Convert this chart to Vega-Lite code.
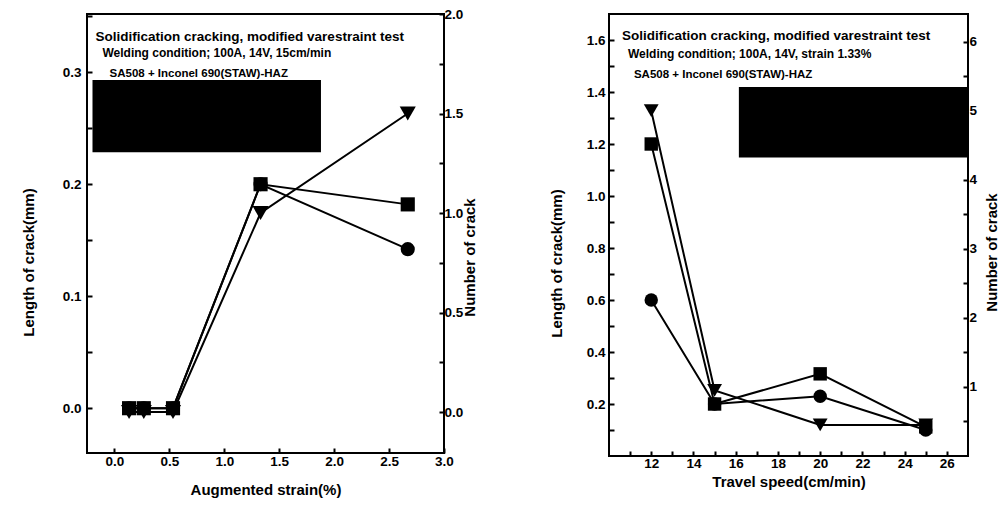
{
  "$schema": "https://vega.github.io/schema/vega-lite/v6.json",
  "background": "white",
  "padding": {"left": 20, "top": 6, "right": 0, "bottom": 0},
  "spacing": 69,
  "config": {
    "view": {"stroke": "black", "strokeWidth": 2},
    "font": "Liberation Sans",
    "axis": {
      "grid": false, "domain": false,
      "tickColor": "black", "tickWidth": 2, "tickSize": -5,
      "labelFont": "Liberation Sans", "labelFontWeight": "bold", "labelFontSize": 13.5, "labelColor": "black",
      "titleFont": "Liberation Sans", "titleFontWeight": "bold", "titleFontSize": 15, "titleColor": "black",
      "labelOverlap": false, "labelFlush": false
    }
  },
  "datasets": {
    "strain": [
      {"strain": 0.133, "series": "square", "value": 0},
      {"strain": 0.267, "series": "square", "value": 0},
      {"strain": 0.533, "series": "square", "value": 0},
      {"strain": 1.33, "series": "square", "value": 0.2},
      {"strain": 2.67, "series": "square", "value": 0.182},
      {"strain": 0.133, "series": "circle", "value": 0},
      {"strain": 0.267, "series": "circle", "value": 0},
      {"strain": 0.533, "series": "circle", "value": 0},
      {"strain": 1.33, "series": "circle", "value": 0.2},
      {"strain": 2.67, "series": "circle", "value": 0.142},
      {"strain": 0.133, "series": "triangle", "value": 0},
      {"strain": 0.267, "series": "triangle", "value": 0},
      {"strain": 0.533, "series": "triangle", "value": 0},
      {"strain": 1.33, "series": "triangle", "value": 1.0},
      {"strain": 2.67, "series": "triangle", "value": 1.5}
    ],
    "speed": [
      {"speed": 12, "series": "square", "value": 1.2},
      {"speed": 15, "series": "square", "value": 0.2},
      {"speed": 20, "series": "square", "value": 0.316},
      {"speed": 25, "series": "square", "value": 0.112},
      {"speed": 12, "series": "circle", "value": 0.6},
      {"speed": 15, "series": "circle", "value": 0.2},
      {"speed": 20, "series": "circle", "value": 0.23},
      {"speed": 25, "series": "circle", "value": 0.1},
      {"speed": 12, "series": "triangle", "value": 5.0},
      {"speed": 15, "series": "triangle", "value": 0.95},
      {"speed": 20, "series": "triangle", "value": 0.45},
      {"speed": 25, "series": "triangle", "value": 0.45}
    ]
  },
  "hconcat": [
    {
      "width": 357,
      "height": 439,
      "resolve": {"scale": {"y": "independent"}},
      "layer": [
        {
          "encoding": {
            "x": {"type": "quantitative", "scale": {"domain": [-0.25, 3.0], "nice": false, "zero": false},
              "axis": {"title": "Augmented strain(%)", "titlePadding": 15, "labelPadding": 6, "labelOverlap": false,
                "values": [0, 0.25, 0.5, 0.75, 1.0, 1.25, 1.5, 1.75, 2.0, 2.25, 2.5, 2.75, 3.0],
                "labelExpr": "abs(datum.value*2 - round(datum.value*2)) < 1e-6 ? format(datum.value, '.1f') : ''"}},
            "y": {"type": "quantitative", "scale": {"domain": [-0.04, 0.352], "nice": false, "zero": false},
              "axis": {"orient": "left", "title": "Length of crack(mm)", "titleY": 248, "titlePadding": 26, "labelPadding": 11, "labelOverlap": false,
                "values": [0, 0.05, 0.1, 0.15, 0.2, 0.25, 0.3, 0.35],
                "labelExpr": "abs(datum.value*10 - round(datum.value*10)) < 1e-6 ? format(datum.value, '.1f') : ''"}}
          },
          "layer": [
            {
              "data": {"values": [{"x": -0.2, "x2": 1.88, "y": 0.293, "y2": 0.2286}]},
              "mark": {"type": "rect", "color": "black"},
              "encoding": {"x": {"field": "x"}, "x2": {"field": "x2"}, "y": {"field": "y"}, "y2": {"field": "y2"}}
            },
            {
              "data": {"values": [{"x": -0.172, "y": 0.3283, "label": "Solidification cracking, modified varestraint test"}]},
              "mark": {"type": "text", "align": "left", "baseline": "alphabetic", "fontSize": 13.5, "fontWeight": "bold", "font": "Liberation Sans", "color": "black"},
              "encoding": {"x": {"field": "x"}, "y": {"field": "y"}, "text": {"field": "label"}}
            },
            {
              "data": {"values": [{"x": -0.109, "y": 0.3134, "label": "Welding condition; 100A, 14V, 15cm/min"}]},
              "mark": {"type": "text", "align": "left", "baseline": "alphabetic", "fontSize": 12, "fontWeight": "bold", "font": "Liberation Sans", "color": "black"},
              "encoding": {"x": {"field": "x"}, "y": {"field": "y"}, "text": {"field": "label"}}
            },
            {
              "data": {"values": [{"x": -0.045, "y": 0.2955, "label": "SA508 + Inconel 690(STAW)-HAZ"}]},
              "mark": {"type": "text", "align": "left", "baseline": "alphabetic", "fontSize": 11.5, "fontWeight": "bold", "font": "Liberation Sans", "color": "black"},
              "encoding": {"x": {"field": "x"}, "y": {"field": "y"}, "text": {"field": "label"}}
            },
            {
              "data": {"name": "strain"},
              "transform": [{"filter": "datum.series !== 'triangle'"}],
              "mark": {"type": "line", "color": "black", "strokeWidth": 2},
              "encoding": {"x": {"field": "strain"}, "y": {"field": "value"}, "detail": {"field": "series"}}
            },
            {
              "data": {"name": "strain"},
              "transform": [{"filter": "datum.series !== 'triangle'"}],
              "mark": {"type": "point", "filled": true, "color": "black", "opacity": 1, "size": 200},
              "encoding": {"x": {"field": "strain"}, "y": {"field": "value"},
                "shape": {"field": "series", "type": "nominal", "scale": {"domain": ["square", "circle", "triangle"], "range": ["square", "circle", "triangle-down"]}, "legend": null}}
            }
          ]
        },
        {
          "data": {"name": "strain"},
          "transform": [{"filter": "datum.series === 'triangle'"}],
          "encoding": {
            "x": {"field": "strain", "type": "quantitative"},
            "y": {"field": "value", "type": "quantitative", "scale": {"domain": [-0.206, 2.0], "nice": false, "zero": false},
              "axis": {"orient": "right", "title": "Number of crack", "titleAngle": -90, "titleBaseline": "top", "titleY": 243, "titlePadding": 0, "labelPadding": 5, "labelOverlap": false,
                "values": [0, 0.25, 0.5, 0.75, 1.0, 1.25, 1.5, 1.75, 2.0],
                "labelExpr": "abs(datum.value*2 - round(datum.value*2)) < 1e-6 ? format(datum.value, '.1f') : ''"}}
          },
          "layer": [
            {"mark": {"type": "line", "color": "black", "strokeWidth": 2}},
            {"mark": {"type": "point", "filled": true, "color": "black", "opacity": 1, "size": 260, "shape": "triangle-down"}}
          ]
        }
      ]
    },
    {
      "width": 359,
      "height": 442,
      "resolve": {"scale": {"y": "independent", "x": "independent"}},
      "layer": [
        {
          "encoding": {
            "x": {"type": "quantitative", "scale": {"domain": [10, 27], "nice": false, "zero": false},
              "axis": {"title": "Travel speed(cm/min)", "titlePadding": 5, "labelPadding": 5, "format": "d",
                "values": [12, 14, 16, 18, 20, 22, 24, 26]}},
            "y": {"type": "quantitative", "scale": {"domain": [0, 1.7], "nice": false, "zero": false},
              "axis": {"orient": "left", "title": "Length of crack(mm)", "titleY": 249, "titlePadding": 22, "labelPadding": 9, "labelOverlap": false,
                "values": [0.1, 0.2, 0.3, 0.4, 0.5, 0.6, 0.7, 0.8, 0.9, 1.0, 1.1, 1.2, 1.3, 1.4, 1.5, 1.6],
                "labelExpr": "abs(datum.value*5 - round(datum.value*5)) < 1e-6 ? format(datum.value, '.1f') : ''"}}
          },
          "layer": [
            {
              "data": {"values": [{"x": 16.15, "x2": 27, "y": 1.419, "y2": 1.148}]},
              "mark": {"type": "rect", "color": "black"},
              "encoding": {"x": {"field": "x"}, "x2": {"field": "x2"}, "y": {"field": "y"}, "y2": {"field": "y2"}}
            },
            {
              "data": {"values": [{"x": 10.615, "y": 1.6, "label": "Solidification cracking, modified varestraint test"}]},
              "mark": {"type": "text", "align": "left", "baseline": "alphabetic", "fontSize": 13.5, "fontWeight": "bold", "font": "Liberation Sans", "color": "black"},
              "encoding": {"x": {"field": "x"}, "y": {"field": "y"}, "text": {"field": "label"}}
            },
            {
              "data": {"values": [{"x": 10.9, "y": 1.529, "label": "Welding condition; 100A, 14V, strain 1.33%"}]},
              "mark": {"type": "text", "align": "left", "baseline": "alphabetic", "fontSize": 12, "fontWeight": "bold", "font": "Liberation Sans", "color": "black"},
              "encoding": {"x": {"field": "x"}, "y": {"field": "y"}, "text": {"field": "label"}}
            },
            {
              "data": {"values": [{"x": 11.18, "y": 1.454, "label": "SA508 + Inconel 690(STAW)-HAZ"}]},
              "mark": {"type": "text", "align": "left", "baseline": "alphabetic", "fontSize": 11.5, "fontWeight": "bold", "font": "Liberation Sans", "color": "black"},
              "encoding": {"x": {"field": "x"}, "y": {"field": "y"}, "text": {"field": "label"}}
            },
            {
              "data": {"name": "speed"},
              "transform": [{"filter": "datum.series !== 'triangle'"}],
              "mark": {"type": "line", "color": "black", "strokeWidth": 2},
              "encoding": {"x": {"field": "speed"}, "y": {"field": "value"}, "detail": {"field": "series"}}
            },
            {
              "data": {"name": "speed"},
              "transform": [{"filter": "datum.series !== 'triangle'"}],
              "mark": {"type": "point", "filled": true, "color": "black", "opacity": 1, "size": 180},
              "encoding": {"x": {"field": "speed"}, "y": {"field": "value"},
                "shape": {"field": "series", "type": "nominal", "scale": {"domain": ["square", "circle", "triangle"], "range": ["square", "circle", "triangle-down"]}, "legend": null}}
            }
          ]
        },
        {
          "data": {"name": "speed"},
          "transform": [{"filter": "datum.series === 'triangle'"}],
          "encoding": {
            "x": {"field": "speed", "type": "quantitative", "scale": {"domain": [10, 27], "nice": false, "zero": false},
              "axis": {"orient": "bottom", "title": null, "labels": false, "values": [11, 13, 15, 17, 19, 21, 23, 25]}},
            "y": {"field": "value", "type": "quantitative", "scale": {"domain": [0, 6.4], "nice": false, "zero": false},
              "axis": {"orient": "right", "title": "Number of crack", "titleAngle": -90, "titleBaseline": "top", "titleY": 238, "titlePadding": 8, "labelPadding": 6, "labelOverlap": false,
                "values": [0.5, 1, 1.5, 2, 2.5, 3, 3.5, 4, 4.5, 5, 5.5, 6],
                "labelExpr": "datum.value % 1 == 0 ? format(datum.value, 'd') : ''"}}
          },
          "layer": [
            {"mark": {"type": "line", "color": "black", "strokeWidth": 2}},
            {"mark": {"type": "point", "filled": true, "color": "black", "opacity": 1, "size": 220, "shape": "triangle-down"}}
          ]
        }
      ]
    }
  ]
}
